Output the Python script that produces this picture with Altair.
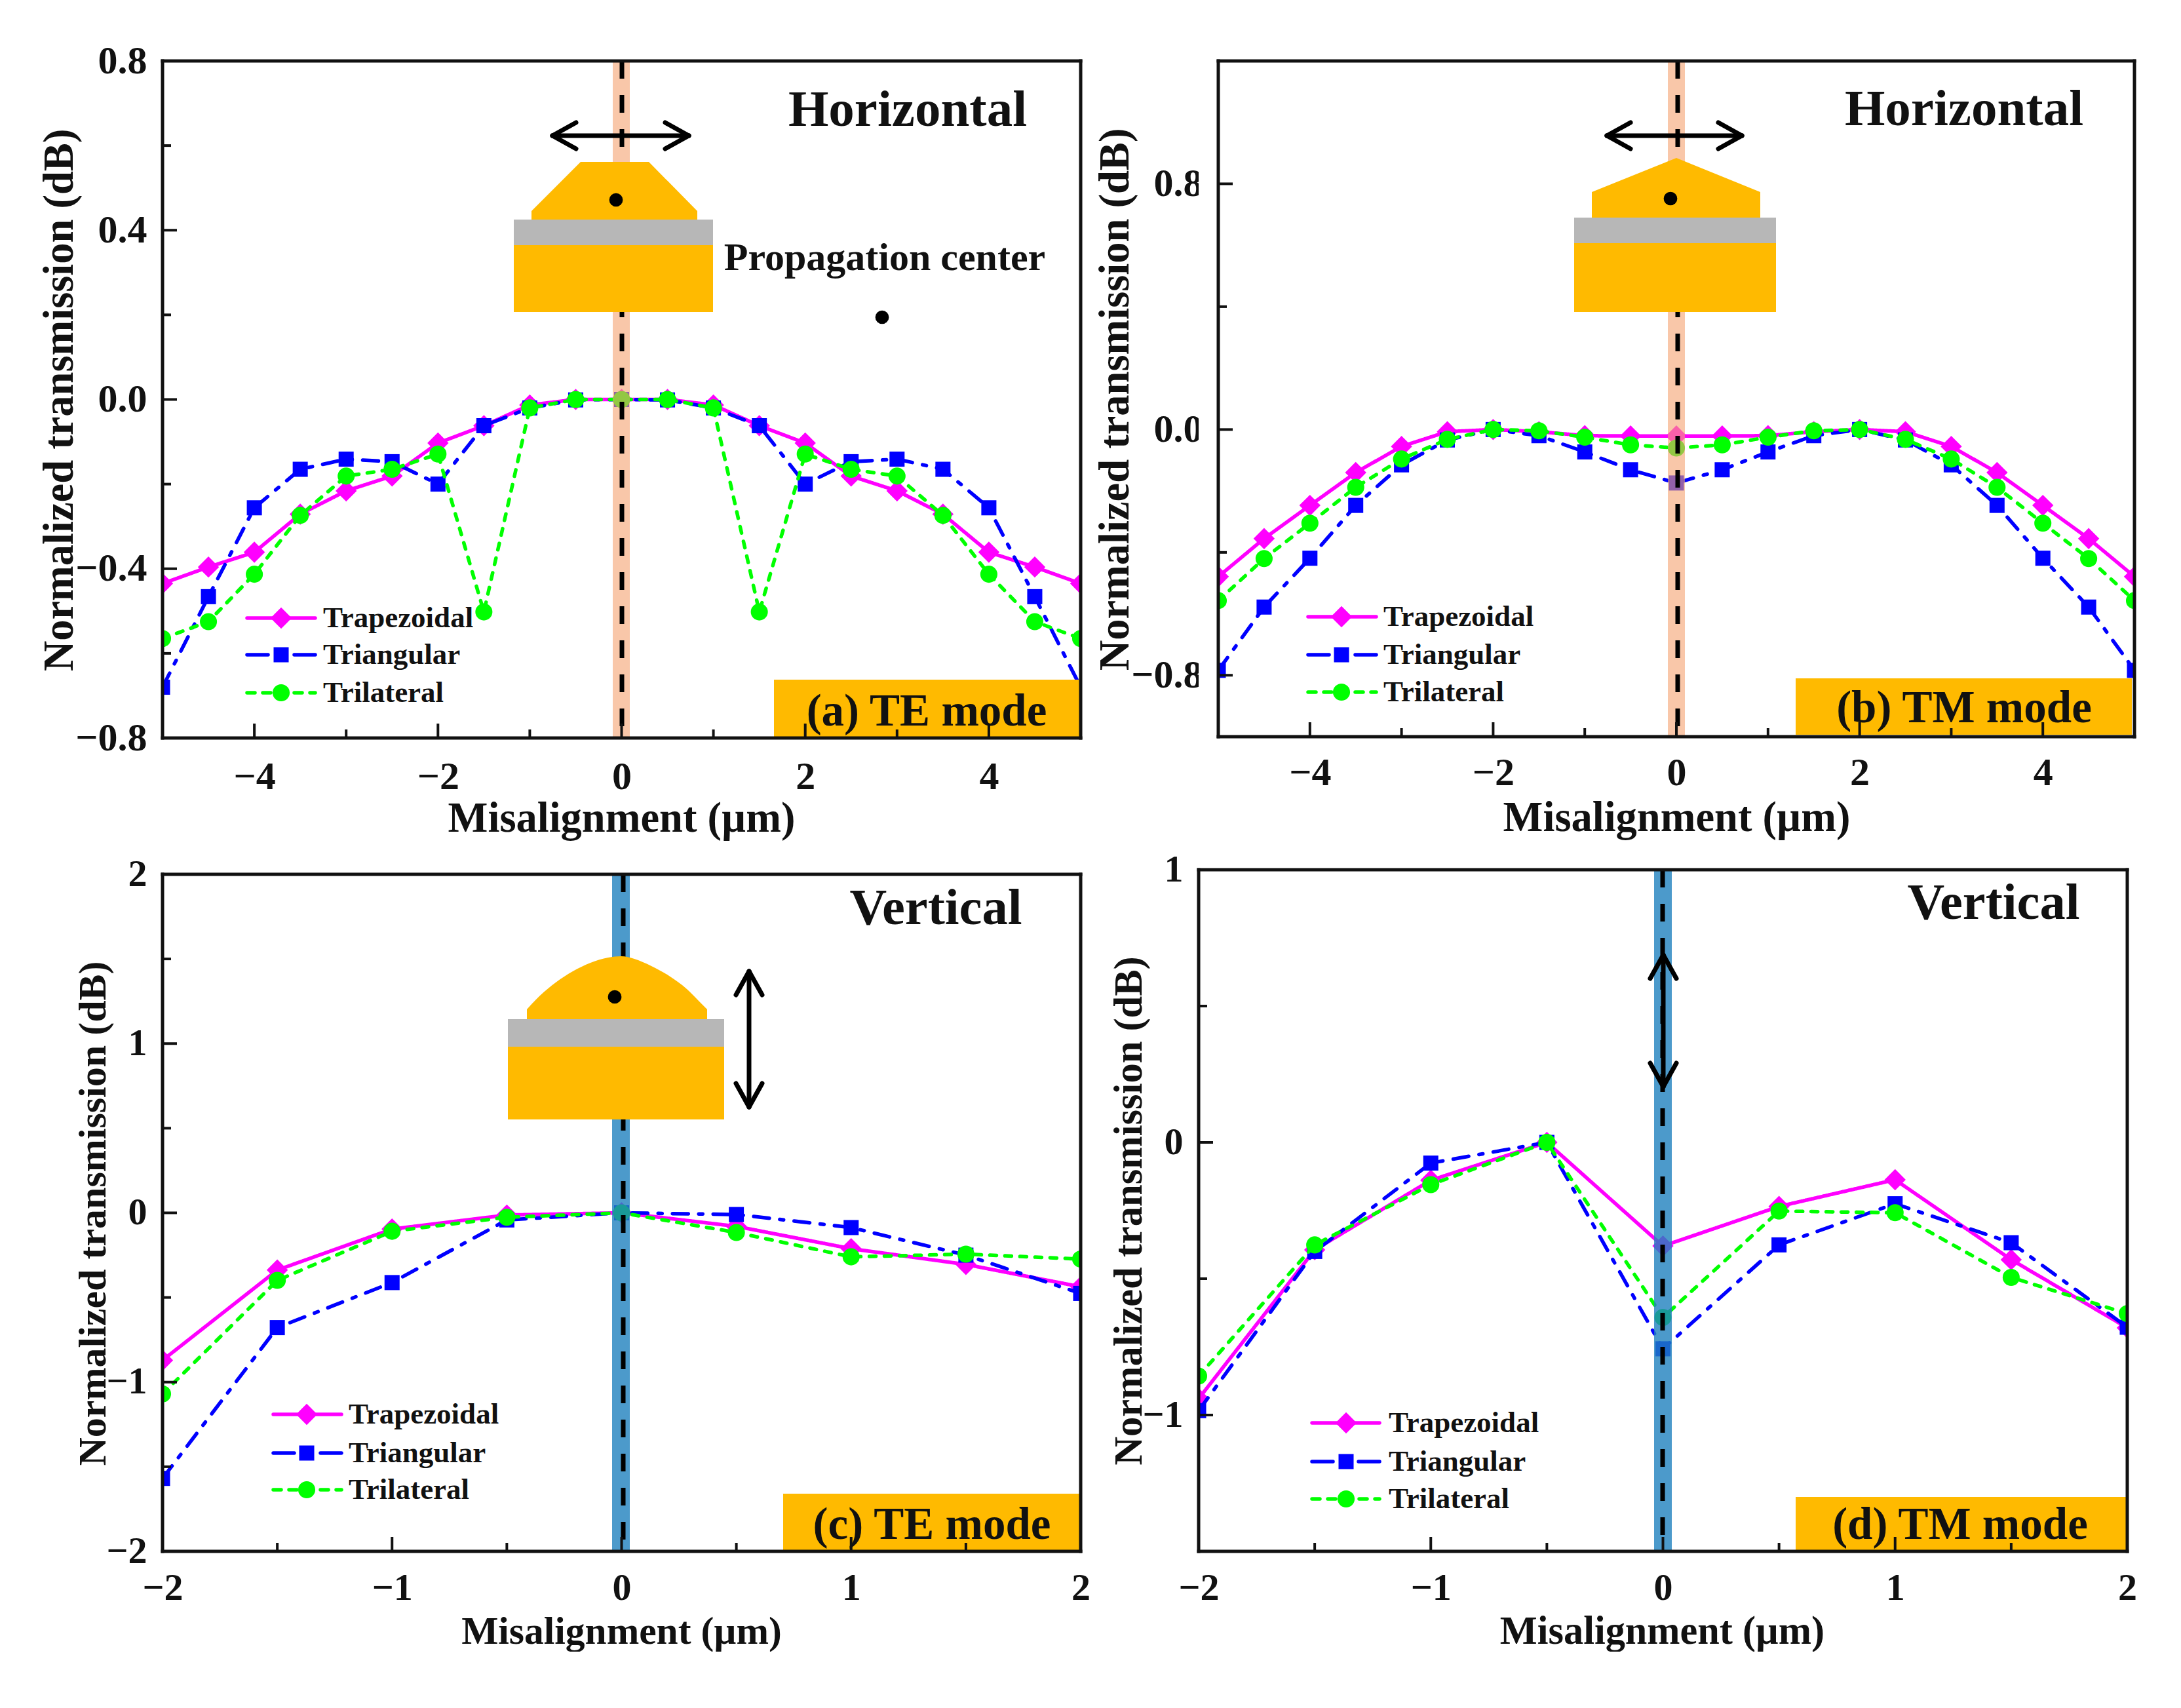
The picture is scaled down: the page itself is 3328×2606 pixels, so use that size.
import altair as alt
import pandas as pd

FONT = "Liberation Serif"
MAGENTA, BLUE, GREEN = "#FF00FF", "#0000FF", "#00FF00"
GOLD, GRAY = "#FFBA00", "#B7B7B7"

x_ab = [-5, -4.5, -4, -3.5, -3, -2.5, -2, -1.5, -1, -0.5, 0, 0.5, 1, 1.5, 2, 2.5, 3, 3.5, 4, 4.5, 5]
x_cd = [-2, -1.5, -1, -0.5, 0, 0.5, 1, 1.5, 2]

a_trap = [-0.435, -0.396, -0.361, -0.271, -0.216, -0.181, -0.103, -0.062, -0.013, 0, 0, 0, -0.013, -0.062, -0.103, -0.181, -0.216, -0.271, -0.361, -0.396, -0.435]
a_tri = [-0.68, -0.466, -0.256, -0.165, -0.141, -0.147, -0.2, -0.062, -0.02, -0.001, 0, -0.001, -0.02, -0.062, -0.2, -0.147, -0.141, -0.165, -0.256, -0.466, -0.68]
a_lat = [-0.565, -0.525, -0.413, -0.274, -0.181, -0.165, -0.129, -0.502, -0.02, 0, 0, 0, -0.02, -0.502, -0.129, -0.165, -0.181, -0.274, -0.413, -0.525, -0.565]

b_trap = [-0.479, -0.355, -0.247, -0.14, -0.055, -0.007, 0, -0.007, -0.02, -0.021, -0.021, -0.021, -0.02, -0.007, 0, -0.007, -0.055, -0.14, -0.247, -0.355, -0.479]
b_tri = [-0.784, -0.578, -0.419, -0.247, -0.115, -0.034, 0, -0.02, -0.073, -0.131, -0.174, -0.131, -0.073, -0.02, 0, -0.034, -0.115, -0.247, -0.419, -0.578, -0.784]
b_lat = [-0.557, -0.42, -0.305, -0.188, -0.096, -0.032, 0, -0.004, -0.025, -0.05, -0.06, -0.05, -0.025, -0.004, 0, -0.032, -0.096, -0.188, -0.305, -0.42, -0.557]

c_trap = [-0.871, -0.338, -0.096, -0.013, 0, -0.08, -0.212, -0.305, -0.437]
c_tri = [-1.569, -0.678, -0.412, -0.042, 0, -0.01, -0.087, -0.25, -0.476]
c_lat = [-1.07, -0.399, -0.109, -0.026, 0, -0.116, -0.26, -0.244, -0.273]

d_trap = [-0.94, -0.394, -0.139, 0, -0.38, -0.235, -0.137, -0.43, -0.68]
d_tri = [-0.984, -0.4, -0.076, 0, -0.757, -0.376, -0.225, -0.368, -0.678]
d_lat = [-0.857, -0.376, -0.155, 0, -0.642, -0.252, -0.258, -0.495, -0.628]

SERIES = [
    ("Trapezoidal", MAGENTA, [1, 0], [1, 0], "diamond", 1050),
    ("Triangular", BLUE, [24, 16, 6, 16], [32, 140], "square", 530),
    ("Trilateral", GREEN, [10, 13], [12, 12], "circle", 680),
]

COL1 = (247, 1401)
COL2 = (1828, 1428)
ROW1 = (91, 1033)
ROW2 = (1325, 1040)

PANELS = {
    "a": dict(col=COL1, row=ROW1, xs=x_ab, ys=[a_trap, a_tri, a_lat], L=247, R=1648, T=91, B=1124,
              xd=(-5, 5), yd=(-0.8, 0.8), xmaj=[-4, -2, 0, 2, 4], xmin=[-3, -1, 1, 3],
              ymaj=[-0.8, -0.4, 0, 0.4, 0.8], ymin=[-0.6, -0.2, 0.2, 0.6], fmt=".1f",
              tick=60, xtitle=64.5, ytitle=64.5, ytx=90, yty=608, xtx=947, xty=1247, lby=1178,
              lx=(376, 480, 428, 492), ly=(941, 997, 1055), leg=45,
              box=(1180, 1648, 1035, 1124), mode="(a) TE mode", mx=1413, my=1084,
              head="Horizontal", hs=79, hx=1384, hy=166, band=(934, 960), dash=948, bandc="#F5A26F", bando=0.6,
              gold=(783, 1087, 372, 474), gray=(783, 1087, 333, 372),
              topx=[810, 885, 989, 1063], topy=[320, 245, 245, 320], base=333, dot=(939, 303),
              arrow="h", ax=(842, 1050), ay=205),
    "b": dict(col=COL2, row=ROW1, xs=x_ab, ys=[b_trap, b_tri, b_lat], L=1858, R=3256, T=91, B=1122,
              xd=(-5, 5), yd=(-1.0, 1.2), xmaj=[-4, -2, 0, 2, 4], xmin=[-3, -1, 1, 3],
              ymaj=[-0.8, 0, 0.8], ymin=[-0.4, 0.4], fmt=".1f",
              tick=60, xtitle=64.5, ytitle=64.5, ytx=1701, yty=607, xtx=2557, xty=1246, lby=1172,
              lx=(1995, 2099, 2046, 2110), ly=(939, 997, 1054), leg=45,
              box=(2739, 3252, 1033, 1119), mode="(b) TM mode", mx=2996, my=1079,
              head="Horizontal", hs=79, hx=2996, hy=165, band=(2544, 2570), dash=2559, bandc="#F5A26F", bando=0.6,
              gold=(2401, 2709, 369, 474), gray=(2401, 2709, 330, 369),
              topx=[2428, 2557, 2685], topy=[291, 239, 291], base=330, dot=(2548, 301),
              arrow="h", ax=(2451, 2657), ay=205),
    "c": dict(col=COL1, row=ROW2, xs=x_cd, ys=[c_trap, c_tri, c_lat], L=247, R=1648, T=1332, B=2365,
              xd=(-2, 2), yd=(-2, 2), xmaj=[-2, -1, 0, 1, 2], xmin=[-1.5, -0.5, 0.5, 1.5],
              ymaj=[-2, -1, 0, 1, 2], ymin=[-1.5, -0.5, 0.5, 1.5], fmt="d",
              tick=58, xtitle=59.5, ytitle=60, ytx=141, yty=1849, xtx=947, xty=2487, lby=2416,
              lx=(416, 520, 467, 531), ly=(2156, 2215, 2271), leg=45,
              box=(1194, 1648, 2277, 2365), mode="(c) TE mode", mx=1421, my=2325,
              head="Vertical", hs=78.5, hx=1427, hy=1384, band=(933, 960), dash=950, bandc="#1F81BE", bando=0.8,
              gold=(774, 1104, 1595, 1706), gray=(774, 1104, 1553, 1595),
              topx=[803, 823, 847, 873, 900, 927, 947, 967, 993, 1020, 1047, 1067, 1078],
              topy=[1538, 1517, 1497, 1480, 1467, 1459, 1457, 1461, 1472, 1487, 1507, 1527, 1538],
              base=1553, dot=(937, 1519), arrow="v", ax=1142, ay=(1480, 1687)),
    "d": dict(col=COL2, row=ROW2, xs=x_cd, ys=[d_trap, d_tri, d_lat], L=1828, R=3245, T=1325, B=2365,
              xd=(-2, 2), yd=(-1.5, 1), xmaj=[-2, -1, 0, 1, 2], xmin=[-1.5, -0.5, 0.5, 1.5],
              ymaj=[-1, 0, 1], ymin=[-0.5, 0.5], fmt="d",
              tick=58, xtitle=60.3, ytitle=60.5, ytx=1722, yty=1845, xtx=2535, xty=2487, lby=2416,
              lx=(2001, 2104, 2053, 2118), ly=(2169, 2228, 2285), leg=45,
              box=(2739, 3245, 2282, 2365), mode="(d) TM mode", mx=2990, my=2325,
              head="Vertical", hs=78.5, hx=3041, hy=1376, band=(2523, 2550), dash=2536, bandc="#1F81BE", bando=0.8,
              gold=None, gray=None, topx=None, topy=None, base=None, dot=None,
              arrow="v", ax=2537, ay=(1455, 1656)),
}


def make_panel(p):
    L, R, T, B = p["L"], p["R"], p["T"], p["B"]
    VL, VW = p["col"]
    VT, VH = p["row"]
    left, right = L - VL, R - VL
    top, bot = T - VT, B - VT
    x0, x1 = p["xd"]
    y0, y1 = p["yd"]

    def X(px):
        return x0 + (px - L) / (R - L) * (x1 - x0)

    def Y(py):
        return y1 - (py - T) / (B - T) * (y1 - y0)

    axis_x = alt.Axis(values=p["xmaj"], format="d", title="Misalignment (\u00b5m)", grid=False,
                      domain=False, ticks=False, labelFont=FONT, labelFontWeight="bold",
                      labelFontSize=p["tick"], labelColor="#111", labelPadding=p["lby"] - (VT + VH) - 24,
                      labelOverlap=False, labelFlush=False,
                      titleFont=FONT, titleFontWeight="bold", titleFontSize=p["xtitle"], titleColor="#111",
                      titleX=p["xtx"] - VL, titleY=p["xty"] - (VT + VH), titleBaseline="middle",
                      titleAlign="center")
    axis_y = alt.Axis(values=p["ymaj"], format=p["fmt"], title="Normalized transmission (dB)", grid=False,
                      domain=False, ticks=False, labelFont=FONT, labelFontWeight="bold",
                      labelFontSize=p["tick"], labelColor="#111", labelPadding=24 - left, labelOverlap=False,
                      labelFlush=False, titleFont=FONT, titleFontWeight="bold", titleFontSize=p["ytitle"],
                      titleColor="#111", titleX=p["ytx"] - VL, titleY=p["yty"] - VT,
                      titleBaseline="middle", titleAlign="center", titleAngle=270)

    sx = alt.Scale(domain=[x0, x1], range=[left, right], nice=False, zero=False)
    sy = alt.Scale(domain=[y0, y1], range=[bot, top], nice=False, zero=False)
    ex = alt.X("x:Q", scale=sx, axis=axis_x)
    ey = alt.Y("y:Q", scale=sy, axis=axis_y)

    layers = []

    for (name, color, dash, ldash, shape, size), vals in zip(SERIES, p["ys"]):
        df = pd.DataFrame({"x": p["xs"], "y": vals, "series": name})
        layers.append(alt.Chart(df).mark_line(color=color, strokeWidth=5.5, strokeDash=dash, strokeCap="round", clip=True)
                      .encode(x=ex, y=ey))
        layers.append(alt.Chart(df).mark_point(shape=shape, filled=True, color=color, size=size, opacity=1, clip=True)
                      .encode(x=ex, y=ey))

    def rect(box, color, opacity=1.0):
        df = pd.DataFrame({"x": [X(box[0])], "x2": [X(box[1])], "y": [Y(box[2])], "y2": [Y(box[3])]})
        return alt.Chart(df).mark_rect(color=color, opacity=opacity).encode(
            x=ex, x2="x2:Q", y=ey, y2="y2:Q")

    def seg(rows, width=7, color="black", dash=None):
        df = pd.DataFrame([{"x": X(a), "y": Y(b), "x2": X(c), "y2": Y(d)} for a, b, c, d in rows])
        kw = dict(strokeDash=dash) if dash else {}
        return alt.Chart(df).mark_rule(color=color, strokeWidth=width, strokeCap="round", **kw).encode(
            x=ex, x2="x2:Q", y=ey, y2="y2:Q")

    def text(rows, size, align="center"):
        df = pd.DataFrame([{"x": X(a), "y": Y(b), "t": t} for a, b, t in rows])
        return alt.Chart(df).mark_text(font=FONT, fontWeight="bold", fontSize=size, color="#111",
                                       align=align, baseline="middle").encode(x=ex, y=ey, text="t:N")

    f = pd.DataFrame({"k": [0]})
    if left > 0:
        layers.append(alt.Chart(f).mark_rect(color="white").encode(
            x=alt.value(0), x2=alt.value(left), y=alt.value(top), y2=alt.value(bot)))
    if right < VW:
        layers.append(alt.Chart(f).mark_rect(color="white").encode(
            x=alt.value(right), x2=alt.value(VW), y=alt.value(top), y2=alt.value(bot)))

    layers.append(rect((p["band"][0], p["band"][1], T, B), p["bandc"], p["bando"]))
    dash_df = pd.DataFrame({"x": [X(p["dash"])], "y": [y1], "y2": [y0]})
    layers.append(alt.Chart(dash_df).mark_rule(color="black", strokeWidth=7, strokeDash=[27, 25]).encode(
        x=ex, y=ey, y2="y2:Q"))

    if p["gold"]:
        layers.append(rect(p["gold"], GOLD))
        layers.append(rect(p["gray"], GRAY))
        dfp = pd.DataFrame({"x": [X(v) for v in p["topx"]], "y": [Y(v) for v in p["topy"]],
                            "y2": [Y(p["base"])] * len(p["topx"])})
        layers.append(alt.Chart(dfp).mark_area(color=GOLD, orient="vertical",
                                               interpolate="monotone" if len(p["topx"]) > 6 else "linear")
                      .encode(x=ex, y=ey, y2="y2:Q"))
        dot_rows = [p["dot"]]
        if p is PANELS["a"]:
            dot_rows.append((1345, 482))
        dfd = pd.DataFrame({"x": [X(a) for a, b in dot_rows], "y": [Y(b) for a, b in dot_rows]})
        layers.append(alt.Chart(dfd).mark_point(shape="circle", filled=True, color="black", size=430, opacity=1)
                      .encode(x=ex, y=ey))

    if p["arrow"] == "h":
        a, b = p["ax"]
        yy = p["ay"]
        layers.append(seg([(a, yy, b, yy), (a, yy, a + 36, yy - 20), (a, yy, a + 36, yy + 20),
                           (b, yy, b - 36, yy - 20), (b, yy, b - 36, yy + 20)]))
    else:
        xx = p["ax"]
        a, b = p["ay"]
        layers.append(seg([(xx, a, xx, b), (xx, a, xx - 20, a + 36), (xx, a, xx + 20, a + 36),
                           (xx, b, xx - 20, b - 36), (xx, b, xx + 20, b - 36)]))

    lx0, lx1, lm, lt = p["lx"]
    for (name, color, dash, ldash, shape, size), ly in zip(SERIES, p["ly"]):
        layers.append(seg([(lx0, ly, lx1, ly)], width=5.5, color=color, dash=ldash if ldash != [1, 0] else None))
        if name == "Triangular":
            layers.append(seg([(lx1 - 32, ly, lx1, ly)], width=5.5, color=color))
        dfm = pd.DataFrame({"x": [X(lm)], "y": [Y(ly)]})
        layers.append(alt.Chart(dfm).mark_point(shape=shape, filled=True, color=color, size=size, opacity=1)
                      .encode(x=ex, y=ey))
        layers.append(text([(lt, ly, name)], p["leg"], "left"))

    layers.append(rect(p["box"], GOLD))
    layers.append(text([(p["mx"], p["my"], p["mode"])], 69))
    layers.append(text([(p["hx"], p["hy"], p["head"])], p["hs"]))
    if p is PANELS["a"]:
        layers.append(text([(1349, 392, "Propagation center")], 60))

    for vals, n in ((p["xmaj"], 22), (p["xmin"], 13)):
        df = pd.DataFrame({"x": vals})
        layers.append(alt.Chart(df).mark_rule(color="#111", strokeWidth=4).encode(
            x=ex, y=alt.value(bot), y2=alt.value(bot - n)))
    for vals, n in ((p["ymaj"], 22), (p["ymin"], 13)):
        df = pd.DataFrame({"y": vals})
        layers.append(alt.Chart(df).mark_rule(color="#111", strokeWidth=4).encode(
            y=ey, x=alt.value(left), x2=alt.value(left + n)))

    for enc in (dict(x=alt.value(left), x2=alt.value(right), y=alt.value(top)),
                dict(x=alt.value(left), x2=alt.value(right), y=alt.value(bot)),
                dict(x=alt.value(left), y=alt.value(top), y2=alt.value(bot)),
                dict(x=alt.value(right), y=alt.value(top), y2=alt.value(bot))):
        layers.append(alt.Chart(f).mark_rule(color="#111", strokeWidth=5, strokeCap="square").encode(**enc))

    return alt.layer(*layers).properties(width=VW, height=VH)


chart = alt.concat(
    make_panel(PANELS["a"]), make_panel(PANELS["b"]),
    make_panel(PANELS["c"]), make_panel(PANELS["d"]),
    columns=2, spacing={"column": 180, "row": 201}, bounds="flush",
).properties(
    background="white",
    padding={"left": 49, "top": 55, "right": 0, "bottom": 0},
).configure_view(stroke=None)

chart.save("out.html", embed_options={"renderer": "svg", "actions": False})
